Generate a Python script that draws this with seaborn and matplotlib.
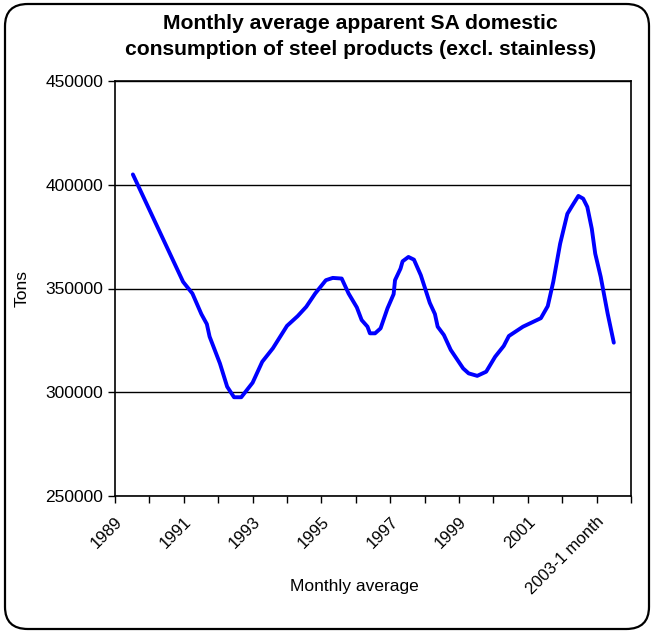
import matplotlib
matplotlib.use("Agg")
import matplotlib.pyplot as plt
from matplotlib.patches import FancyBboxPatch
import numpy as np
import seaborn as sns

# values (fractional year, tons)
years = [1989.52, 1990.98, 1991.25, 1991.51, 1991.67, 1991.75, 1992.05, 1992.26,
         1992.46, 1992.67, 1993.00, 1993.28, 1993.59, 1994.00, 1994.31, 1994.56,
         1994.82, 1995.13, 1995.33, 1995.59, 1995.79, 1996.03, 1996.17, 1996.34,
         1996.41, 1996.56, 1996.72, 1996.92, 1997.10, 1997.14, 1997.30, 1997.36,
         1997.53, 1997.69, 1997.89, 1998.15, 1998.30, 1998.38, 1998.56, 1998.76,
         1999.12, 1999.28, 1999.53, 1999.79, 2000.05, 2000.30, 2000.45, 2000.86,
         2001.38, 2001.58, 2001.74, 2001.94, 2002.15, 2002.30, 2002.47, 2002.61,
         2002.73, 2002.86, 2002.96, 2003.12, 2003.32, 2003.50]
tons = [404970, 353200, 347600, 337700, 332850, 326800, 313900, 302700,
        297600, 297600, 304600, 314700, 321200, 332000, 336700, 341200,
        347600, 354000, 355100, 354800, 347600, 340900, 334800, 331600,
        328400, 328400, 330800, 340400, 347300, 354000, 359600, 363100,
        365200, 363900, 356400, 343100, 337700, 331600, 327600, 320400,
        311500, 309100, 307900, 309900, 317100, 322300, 327100, 331600,
        335700, 341500, 353200, 371600, 386000, 390100, 394600, 393300,
        389300, 378800, 366800, 355600, 338000, 323900]

tick_years = list(range(1989, 2005))
tick_labels = ["1989", "", "1991", "", "1993", "", "1995", "", "1997", "",
               "1999", "", "2001", "", "2003-1 month", ""]
y_ticks = [250000, 300000, 350000, 400000, 450000]

sns.set_theme(style="white")
plt.rcParams['font.family'] = ['Liberation Sans', 'DejaVu Sans']
plt.rcParams['text.color'] = 'black'
plt.rcParams['axes.labelcolor'] = 'black'
plt.rcParams['xtick.color'] = 'black'
plt.rcParams['ytick.color'] = 'black'

fig = plt.figure(figsize=(6.53, 6.33), dpi=100)
ax = fig.add_axes([115 / 653, 1 - 496 / 633, 516 / 653, 415 / 633])

sns.lineplot(x=years, y=tons, ax=ax, color="#0000FF", linewidth=2.8,
             solid_joinstyle="round", solid_capstyle="round")

ax.set_xlim(1989, 2004)
ax.set_ylim(250000, 450000)
ax.set_yticks(y_ticks)
ax.set_yticklabels([str(v) for v in y_ticks], fontsize=12.5)
ax.set_xticks(tick_years)
ax.set_xticklabels(tick_labels, fontsize=12, rotation=45, ha="right",
                   rotation_mode="anchor")
ax.tick_params(axis="both", direction="out", length=5, width=1, color="black",
               bottom=True, left=True)
ax.tick_params(axis="x", pad=8)

ax.grid(axis="y", color="black", linewidth=1)
ax.set_axisbelow(True)
for s in ax.spines.values():
    s.set_color("black")
    s.set_linewidth(1.2)

ax.set_xlabel("Monthly average", fontsize=12.5)
ax.set_ylabel("Tons", fontsize=12.5)
ax.yaxis.set_label_coords(-0.165, 0.5)
ax.xaxis.set_label_coords(0.463, -0.2)

fig.text(0.552, 0.978, "Monthly average apparent SA domestic\nconsumption of steel products (excl. stainless)",
         ha="center", va="top", fontsize=15.2, fontweight="bold", linespacing=1.5)

fig.patches.append(FancyBboxPatch((5 / 653, 4 / 633), 644 / 653, 625 / 633,
                                  boxstyle="round,pad=0,rounding_size=0.035",
                                  transform=fig.transFigure, fill=False,
                                  ec="black", lw=1.6))

fig.savefig("out.png", dpi=100)
